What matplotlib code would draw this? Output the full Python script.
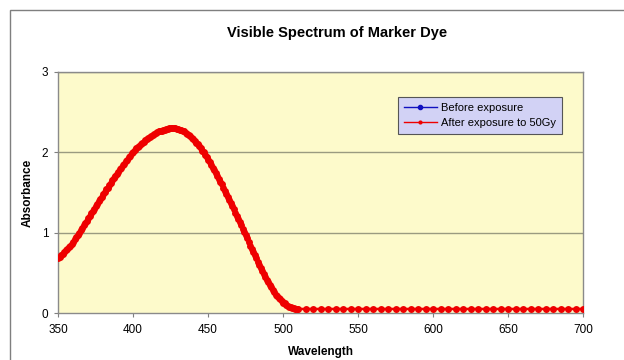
import matplotlib
matplotlib.use("Agg")
import matplotlib.pyplot as plt
from matplotlib.patches import Rectangle

plt.rcParams['font.family'] = ['Liberation Sans', 'DejaVu Sans']

# dense readings over the absorption band, coarser readings beyond 510 nm
wavelength = list(range(350, 511)) + [515, 520, 525, 530, 535, 540, 545,
              550, 555, 560, 565, 570, 575, 580, 585, 590, 595,
              600, 605, 610, 615, 620, 625, 630, 635, 640, 645,
              650, 655, 660, 665, 670, 675, 680, 685, 690, 695, 700]

band = [0.68, 0.70, 0.72, 0.74, 0.76, 0.78,
        0.80, 0.82, 0.84, 0.86, 0.89,
        0.92, 0.94, 0.97, 1.00, 1.03,
        1.06, 1.09, 1.12, 1.15, 1.18,
        1.21, 1.24, 1.27, 1.30, 1.33,
        1.36, 1.39, 1.42, 1.45, 1.48,
        1.51, 1.54, 1.56, 1.59, 1.62,
        1.65, 1.68, 1.70, 1.73, 1.76,
        1.79, 1.81, 1.84, 1.86, 1.89,
        1.91, 1.94, 1.96, 1.99, 2.01,
        2.03, 2.05, 2.07, 2.08, 2.10,
        2.12, 2.13, 2.15, 2.16, 2.18,
        2.19, 2.20, 2.21, 2.23, 2.24,
        2.25, 2.26, 2.26, 2.27, 2.28,
        2.28, 2.29, 2.29, 2.30, 2.30,
        2.30, 2.30, 2.30, 2.29, 2.29,
        2.28, 2.28, 2.27, 2.26, 2.24,
        2.23, 2.21, 2.20, 2.18, 2.16,
        2.14, 2.12, 2.10, 2.08, 2.05,
        2.02, 2.00, 1.97, 1.94, 1.91,
        1.88, 1.84, 1.81, 1.78, 1.74,
        1.70, 1.67, 1.63, 1.60, 1.56,
        1.52, 1.48, 1.45, 1.41, 1.37,
        1.33, 1.29, 1.25, 1.21, 1.17,
        1.13, 1.09, 1.05, 1.01, 0.97,
        0.93, 0.89, 0.84, 0.80, 0.76,
        0.72, 0.68, 0.64, 0.60, 0.56,
        0.52, 0.49, 0.45, 0.41, 0.38,
        0.35, 0.32, 0.29, 0.26, 0.23,
        0.21, 0.19, 0.17, 0.15, 0.13,
        0.12, 0.10, 0.09, 0.08, 0.07,
        0.06, 0.06, 0.05, 0.05, 0.05]

tail = [0.05, 0.05, 0.05, 0.05, 0.05, 0.05, 0.05,
        0.05, 0.05, 0.05, 0.05, 0.05, 0.05, 0.05, 0.05, 0.05, 0.05,
        0.05, 0.05, 0.05, 0.05, 0.05, 0.05, 0.05, 0.05, 0.05, 0.05,
        0.05, 0.05, 0.05, 0.05, 0.05, 0.05, 0.05, 0.05, 0.05, 0.05, 0.05]

before = band + tail
after = band + tail

x_ticks = [350, 400, 450, 500, 550, 600, 650, 700]
y_ticks = [0, 1, 2, 3]

fig = plt.figure(figsize=(6.24, 3.6), dpi=100)
fig.patch.set_facecolor('white')

# outer chart frame
fig.add_artist(Rectangle((10/624, -0.1), 1.2, 1 - 10/360 + 0.1,
                         transform=fig.transFigure, fill=False,
                         edgecolor='#7f7f7f', linewidth=1.0))

ax = fig.add_axes([58/624, 1 - 313/360, (583 - 58)/624, (313 - 72)/360])
ax.set_facecolor('#fdfacb')

for y in [1, 2, 3]:
    ax.axhline(y, color='#9a9a80', linewidth=1.0, zorder=1)

ax.plot(wavelength, before, color='#1010c0', linewidth=1.0, marker='o',
        markersize=2.5, label='Before exposure', zorder=2)
ax.plot(wavelength, after, color='#ee0000', linewidth=1.8, marker='o',
        markersize=5.0, markeredgewidth=0, label='After exposure to 50Gy',
        zorder=3)

ax.set_xlim(350, 700)
ax.set_ylim(0, 3)
ax.set_xticks(x_ticks)
ax.set_yticks(y_ticks)
ax.tick_params(axis='both', labelsize=8.5, length=3, color='#7f7f7f',
               direction='out')
ax.tick_params(axis='x', pad=5)
ax.tick_params(axis='y', pad=4)
for s in ['left', 'bottom', 'right', 'top']:
    ax.spines[s].set_color('#8a8a8a')
    ax.spines[s].set_linewidth(1.0)

ax.set_xlabel('Wavelength', fontsize=8.5, fontweight='bold', labelpad=7)
ax.set_ylabel('Absorbance', fontsize=8.5, fontweight='bold', labelpad=6)
fig.text(337/624, 1 - 33/360, 'Visible Spectrum of Marker Dye',
         ha='center', va='center', fontsize=10.5, fontweight='bold')

leg = ax.legend(loc='upper left', bbox_to_anchor=((398 - 58)/525, (313 - 97)/241),
                fontsize=8, frameon=True, fancybox=False, handlelength=3.0,
                borderpad=0.5, labelspacing=0.5, handletextpad=0.4,
                borderaxespad=0)
leg.get_frame().set_facecolor('#d2d2f5')
leg.get_frame().set_edgecolor('#555555')
leg.get_frame().set_alpha(1)
leg.get_frame().set_linewidth(0.8)
for h in leg.legend_handles:
    h.set_linewidth(1.0)
    h.set_markersize(3)

fig.savefig('out.png', dpi=100)
